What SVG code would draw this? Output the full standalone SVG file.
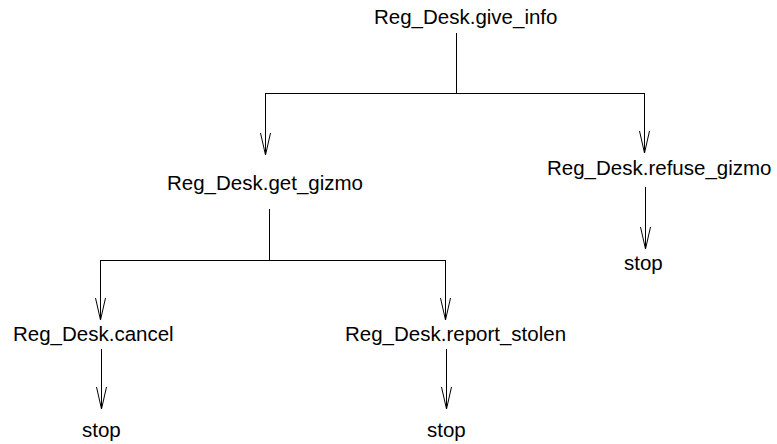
<svg xmlns="http://www.w3.org/2000/svg" width="777" height="444" viewBox="0 0 777 444">
<style>
text { font-family: "Liberation Sans", Arial, sans-serif; font-size: 20.5px; fill: #000; }
.c { fill: none; stroke: #000; stroke-width: 1; }
</style>
<defs>
<marker id="v" markerUnits="userSpaceOnUse" orient="auto" refX="0" refY="0" markerWidth="30" markerHeight="14" viewBox="-24 -7 26 14" overflow="visible">
<path d="M-22,-5 L0,0 L-22,5" fill="none" stroke="#000" stroke-width="1"/>
</marker>
</defs>
<rect width="777" height="444" fill="#fff"/>
<g id="connectors">
<path class="c" d="M456.5,33 V93"/>
<path class="c" d="M265.5,93.5 H644.5"/>
<path class="c" d="M265.5,93 V155" marker-end="url(#v)"/>
<path class="c" d="M644.5,93 V153" marker-end="url(#v)"/>
<path class="c" d="M269.5,209 V260"/>
<path class="c" d="M100.5,260.5 H445.5"/>
<path class="c" d="M100.5,260 V320" marker-end="url(#v)"/>
<path class="c" d="M445.5,260 V320" marker-end="url(#v)"/>
<path class="c" d="M101.5,349 V409" marker-end="url(#v)"/>
<path class="c" d="M446.5,349 V409" marker-end="url(#v)"/>
<path class="c" d="M645.5,187 V249" marker-end="url(#v)"/>
</g>
<g id="give_info"><text x="374" y="24">Reg_Desk.give_info</text></g>
<g id="get_gizmo"><text x="167" y="190">Reg_Desk.get_gizmo</text></g>
<g id="refuse_gizmo"><text x="547" y="175">Reg_Desk.refuse_gizmo</text></g>
<g id="cancel"><text x="13" y="341">Reg_Desk.cancel</text></g>
<g id="report_stolen"><text x="345" y="341">Reg_Desk.report_stolen</text></g>
<g id="stop1"><text x="82" y="437">stop</text></g>
<g id="stop2"><text x="427" y="437">stop</text></g>
<g id="stop3"><text x="624" y="270">stop</text></g>
</svg>
